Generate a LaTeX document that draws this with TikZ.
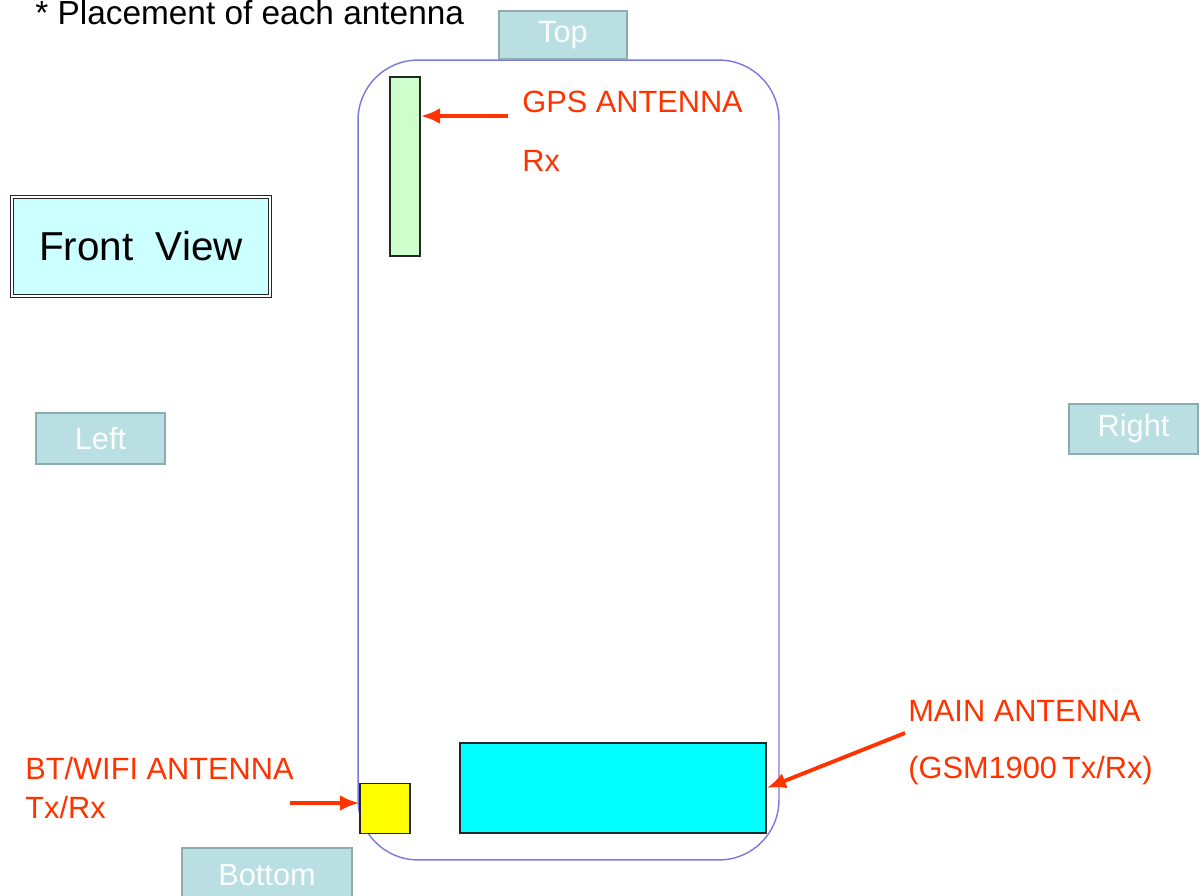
\documentclass[tikz,border=0pt]{standalone}
\usepackage{fontspec}
\setmainfont{Liberation Sans}
\definecolor{labelred}{RGB}{255,51,0}
\definecolor{sidefill}{RGB}{185,223,226}
\definecolor{sideline}{RGB}{140,172,174}
\definecolor{phoneblue}{RGB}{120,120,225}
\definecolor{gpsgreen}{RGB}{204,255,204}
\definecolor{viewfill}{RGB}{204,255,255}
\definecolor{mainfill}{RGB}{0,255,255}
\definecolor{btfill}{RGB}{255,255,0}
\usetikzlibrary{arrows.meta}

\begin{document}
\begin{tikzpicture}[x=0.02cm,y=-0.02cm,>={Latex[length=11pt,width=9pt]}]

%
% Styles
%
\tikzstyle{side} = [rectangle,draw=sideline,fill=sidefill,line width=1.6pt,
  text=white!94!sidefill,font=\fontsize{17.5}{20}\selectfont,inner sep=0pt]
\tikzstyle{antenna} = [rectangle,draw=black!85,line width=0.8pt,inner sep=0pt]
\tikzstyle{redlabel} = [anchor=base west,inner sep=0pt,text=labelred,
  font=\fontsize{17.5}{20}\selectfont]
\tikzstyle{pointer} = [->,draw=labelred,line width=2.2pt]

\useasboundingbox (0,0) rectangle (1202,895);

\node[anchor=base west,inner sep=0pt,font=\fontsize{19}{21}\selectfont] (title) at (35,25) {* Placement of each antenna};

\node[rectangle,draw=phoneblue,line width=0.8pt,rounded corners=1.2cm,
  minimum width=8.42cm,minimum height=16cm] (phone) at (568.5,460) {};

\node[side,minimum width=2.56cm,minimum height=0.96cm] (top)    at (563,35)     {Top};
\node[side,minimum width=2.58cm,minimum height=1.02cm] (left)   at (100.5,438.5) {Left};
\node[side,minimum width=2.58cm,minimum height=1.0cm]  (right)  at (1133.5,429) {Right};
\node[side,minimum width=3.4cm,minimum height=1.08cm]  (bottom) at (267,875)    {Bottom};

\node[rectangle,draw=black!85,double=white,double distance=1.2pt,line width=0.7pt,
  fill=viewfill,minimum width=5.16cm,minimum height=1.98cm,
  font=\fontsize{23}{26}\selectfont] (front) at (141,246.5) {Front\ \ View};

\node[antenna,fill=gpsgreen,minimum width=0.6cm,minimum height=3.58cm] (gps)  at (405,166.5) {};
\node[antenna,fill=btfill,minimum width=1.0cm,minimum height=1.0cm]    (bt)   at (385,808.5) {};
\node[antenna,fill=mainfill,minimum width=6.12cm,minimum height=1.8cm] (main) at (613,788)   {};

\node[redlabel] (gpslabel)  at (522,113) {GPS ANTENNA};
\node[redlabel] (gpsrx)     at (522,172) {Rx};
\node[redlabel] (btlabel)   at (25,779)  {BT/WIFI ANTENNA};
\node[redlabel] (bttxrx)    at (25,818)  {Tx/Rx};
\node[redlabel] (mainlabel) at (908,721) {MAIN ANTENNA};
\node[redlabel] (maintxrx)  at (908,778) {(GSM1900\,Tx/Rx)};

\coordinate (gpstail)  at (508,116);
\coordinate (bttail)   at (290,803);
\coordinate (maintail) at (905,733);

\draw[pointer] (gpstail) -- (gpstail -| gps.east);
\draw[pointer] (bttail) -- (bttail -| bt.west);
\draw[pointer] (maintail) -- (main.east);

\end{tikzpicture}
\end{document}
